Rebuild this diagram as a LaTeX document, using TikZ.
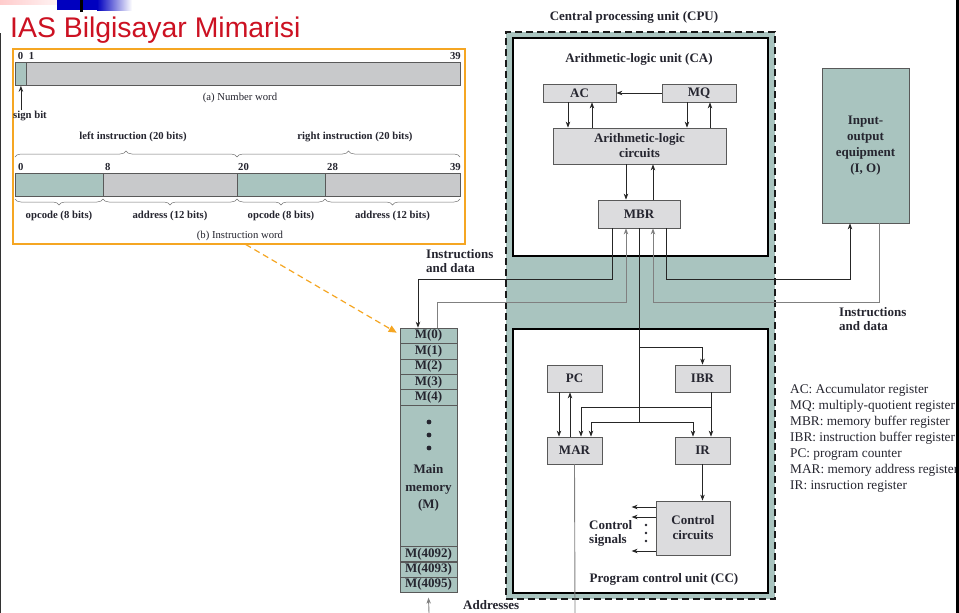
\documentclass[tikz,border=0pt]{standalone}
\usepackage{fontspec}
\setmainfont{Liberation Serif}
\newfontfamily\titlefont{Liberation Sans}
\usetikzlibrary{arrows.meta,decorations.pathreplacing,positioning}
\definecolor{memteal}{HTML}{A9C4BF}
\definecolor{fieldgray}{HTML}{C8C9CB}
\definecolor{reggray}{HTML}{DCDCDE}
\definecolor{frameorange}{HTML}{F5A623}
\definecolor{titlered}{HTML}{CC1122}
\definecolor{inkc}{HTML}{25252F}
\begin{document}
\begin{tikzpicture}[x=1pt,y=-1pt,
    every node/.style={text=inkc, inner sep=0pt},
    reg/.style={draw=black!65, fill=reggray, line width=0.8pt, align=center,
      font=\bfseries\fontsize{13}{15}\selectfont},
    mem/.style={draw=black!65, fill=memteal, line width=0.6pt, minimum width=57pt,
      font=\bfseries\fontsize{13}{14}\selectfont},
    unitbox/.style={draw=black, line width=1.7pt, fill=white, anchor=north west},
    wire/.style={draw=black!85, line width=0.75pt},
    gwire/.style={draw=black!50, line width=0.9pt},
    arr/.style={-{Stealth[length=6pt,width=4.5pt]}},
    caption/.style={font=\bfseries\fontsize{13}{14}\selectfont, align=left},
    fmt/.style={font=\fontsize{10.7}{12}\selectfont},
    fmtb/.style={font=\bfseries\fontsize{10.7}{12}\selectfont},
    field/.style={draw=black!65, line width=0.8pt},
    brc/.style={draw=black!55, line width=0.5pt, decorate, decoration={brace, amplitude=6pt}},
  ]
  \useasboundingbox (0,0) rectangle (959,613);
  \fill[white] (0,0) rectangle (959,613);

  % slide header strip
  \shade[left color=red!20, right color=white] (0,0) rectangle (75,4);
  \fill[blue!75!black] (57,0) rectangle (97,10);
  \shade[left color=blue!75!black, right color=white] (97,0) rectangle (132,10);
  \fill[black] (80,0) rectangle (83,12);
  \fill[black!80] (0,33) rectangle (1.2,613);
  \node[anchor=base west, text=titlered, font=\titlefont\fontsize{28.4}{30}\selectfont] (title) at (10,37) {IAS Bilgisayar Mimarisi};

  % word formats
  \node[draw=frameorange, line width=1.5pt, minimum width=452pt, minimum height=195pt, anchor=north west] (fmtbox) at (12,48) {};
  \node[field, fill=memteal, minimum width=11pt, minimum height=23pt, anchor=north west] (sign) at (15,62) {};
  \node[field, fill=fieldgray, minimum width=434pt, minimum height=23pt, anchor=north west] (mag) at (26,62) {};
  \node[fmtb, anchor=base] at (20.5,59) {0};
  \node[fmtb, anchor=base] at (31.5,59) {1};
  \node[fmtb, anchor=base east] at (461,59) {39};
  \node[fmt, anchor=base] at (240,100) {(a) Number word};
  \node[fmtb, anchor=base west] (signlbl) at (13,118) {sign bit};
  \draw[wire,arr] (signlbl.north -| sign.south) -- (sign.south);

  \draw[brc] (15,157) -- (237,157);
  \draw[brc] (237,157) -- (460,157);
  \node[fmtb, anchor=base] at (133,139) {left instruction (20 bits)};
  \node[fmtb, anchor=base] at (355,139) {right instruction (20 bits)};
  \foreach \a/\b/\c in {15/103/memteal, 103/237/fieldgray, 237/325/memteal, 325/460/fieldgray}
    \draw[field, fill=\c] (\a,173) rectangle (\b,196);
  \foreach \x/\n in {18/0, 105/8, 238/20, 327/28}
    \node[fmtb, anchor=base west] at (\x,170) {\n};
  \node[fmtb, anchor=base east] at (461,170) {39};
  \foreach \a/\b/\t in {15/103/opcode (8 bits), 103/237/address (12 bits), 237/325/opcode (8 bits), 325/460/address (12 bits)}
    \draw[brc, decoration={mirror}] (\a,199) -- (\b,199) node[fmtb, midway, anchor=base, yshift=-19pt] {\t};
  \node[fmt, anchor=base] at (240,238) {(b) Instruction word};

  % CPU
  \node[draw=black!90, fill=memteal, line width=1.8pt, dash pattern=on 7pt off 4pt,
    minimum width=269pt, minimum height=567pt, anchor=north west] (cpu) at (505,31) {};
  \node[caption, anchor=base] at (634,20) {Central processing unit (CPU)};
  \node[unitbox, minimum width=255pt, minimum height=218pt] (alu) at (512,37) {};
  \node[caption, anchor=base] at (639,62) {Arithmetic-logic unit (CA)};
  \node[unitbox, minimum width=255pt, minimum height=264pt] (cc) at (512,328) {};
  \node[caption, anchor=base] at (664,582) {Program control unit (CC)};

  \node[reg, minimum width=73pt, minimum height=18pt] (ac) at (579.5,93) {AC};
  \node[reg, minimum width=74pt, minimum height=18pt] (mq) at (699,93) {MQ};
  \node[reg, minimum width=173pt, minimum height=36pt] (alc) at (639.5,146) {Arithmetic-logic\\circuits};
  \node[reg, minimum width=82pt, minimum height=28pt] (mbr) at (639,214) {MBR};

  \draw[wire,arr] (mq.west) -- (ac.east);
  \draw[wire,arr] ([xshift=-11.5pt]ac.south) -- ([xshift=-11.5pt]ac.south |- alc.north);
  \draw[wire,arr] ([xshift=12.5pt]ac.south |- alc.north) -- ([xshift=12.5pt]ac.south);
  \draw[wire,arr] ([xshift=-12pt]mq.south) -- ([xshift=-12pt]mq.south |- alc.north);
  \draw[wire,arr] ([xshift=11pt]mq.south |- alc.north) -- ([xshift=11pt]mq.south);
  \draw[wire,arr] ([xshift=-13pt]mbr.north |- alc.south) -- ([xshift=-13pt]mbr.north);
  \draw[wire,arr] ([xshift=14pt]mbr.north) -- ([xshift=14pt]mbr.north |- alc.south);

  \node[reg, minimum width=55pt, minimum height=27pt] (pc) at (574.5,378.5) {PC};
  \node[reg, minimum width=55pt, minimum height=27pt] (ibr) at (702.5,378.5) {IBR};
  \node[reg, minimum width=55pt, minimum height=27pt] (mar) at (574.5,450.5) {MAR};
  \node[reg, minimum width=55pt, minimum height=27pt] (ir) at (702.5,450.5) {IR};
  \node[reg, minimum width=74pt, minimum height=54pt] (ctrl) at (693,528) {Control\\circuits};

  \coordinate (ibrtap) at (639,347);
  \coordinate (bus) at (639,422);
  \coordinate (irtap) at (711,407);
  \draw[wire] (mbr.south) -- (bus);
  \draw[wire,arr] (ibrtap) -| (ibr.north);
  \draw[wire,arr] (bus) -| ([xshift=16.5pt]mar.north);
  \draw[wire,arr] (bus) -| ([xshift=-9.5pt]ir.north);
  \draw[wire,arr] ([xshift=8.5pt]ibr.south) -- ([xshift=8.5pt]ir.north);
  \draw[wire,arr] (irtap) -| ([xshift=6.5pt]mar.north);
  \draw[wire,arr] ([xshift=-15.5pt]pc.south) -- ([xshift=-15.5pt]mar.north);
  \draw[wire,arr] ([xshift=-4.5pt]mar.north) -- ([xshift=-4.5pt]pc.south);
  \draw[wire,arr] (ir.south) -- (ir.south |- ctrl.north);
  \foreach \y in {507,517,551}
    \draw[wire,arr] (ctrl.west |- 0,\y) -- ++(-24,0);
  \foreach \y in {525,533,541}
    \fill[inkc] (646,\y) circle (1.3pt);
  \node[caption, anchor=north west] at (589,520) {Control\\signals};
  \coordinate (addr) at (575,613);
  \draw[gwire] (mar.south) -- (addr);
  \node[caption, anchor=north west] at (463,600) {Addresses};

  % main memory
  \foreach \txt [count=\i from 0] in {M(0),M(1),M(2),M(3),M(4)}
    \node[mem, minimum height=15.4pt] (m\i) at (428.5,335.7+15.4*\i) {\txt};
  \node[mem, minimum height=141pt] (mbody) at (428.5,475.5) {};
  \foreach \y in {422,435,448}
    \fill[inkc] (429,\y) circle (2.4pt);
  \node[align=center, font=\bfseries\fontsize{13}{17.5}\selectfont] (mlbl) at (428.5,488) {Main\\memory\\(M)};
  \foreach \n/\y in {4092/554,4093/569.5,4095/584.7}
    \node[mem, minimum height=15.3pt] (m\n) at (428.5,\y) {M(\n)};
  \coordinate (memin) at (429,613);
  \draw[gwire,arr] (memin) -- ([yshift=-5pt]m4095.south);

  % input-output
  \node[reg, fill=memteal, minimum width=87pt, minimum height=155pt, font=\bfseries\fontsize{13}{16}\selectfont] (io) at (865.5,145.5) {Input-\\output\\equipment\\(I, O)};

  % data paths between MBR, memory and I/O
  \draw[wire,arr] ([xshift=-27pt]mbr.south) -- ++(0,51) -| ([xshift=-10.5pt]m0.north);
  \draw[gwire,arr] ([xshift=8.5pt]m0.north) -- ++(0,-25) -| ([xshift=-13pt]mbr.south);
  \draw[wire,arr] ([xshift=27pt]mbr.south) -- ++(0,51) -| ([xshift=-15.5pt]io.south);
  \draw[gwire,arr] ([xshift=13.5pt]io.south) -- ++(0,79) -| ([xshift=14pt]mbr.south);
  \node[caption, anchor=north west] at (426,249) {Instructions\\and data};
  \node[caption, anchor=north west] at (839,307) {Instructions\\and data};

  \draw[frameorange, line width=1.2pt, dash pattern=on 6pt off 4pt, -{Triangle[length=8pt,width=7pt]}]
    ([xshift=7pt]fmtbox.south) -- ([xshift=-3pt,yshift=-5pt]m0.north west);

  \node[anchor=north west, align=left, font=\fontsize{13.3}{16}\selectfont] (legend) at (790,384)
    {AC: Accumulator register\\MQ: multiply-quotient register\\MBR: memory buffer register\\IBR: instruction buffer register\\PC: program counter\\MAR: memory address register\\IR: insruction register};
  \fill[black] (956,0) rectangle (959,613);
\end{tikzpicture}
\end{document}
